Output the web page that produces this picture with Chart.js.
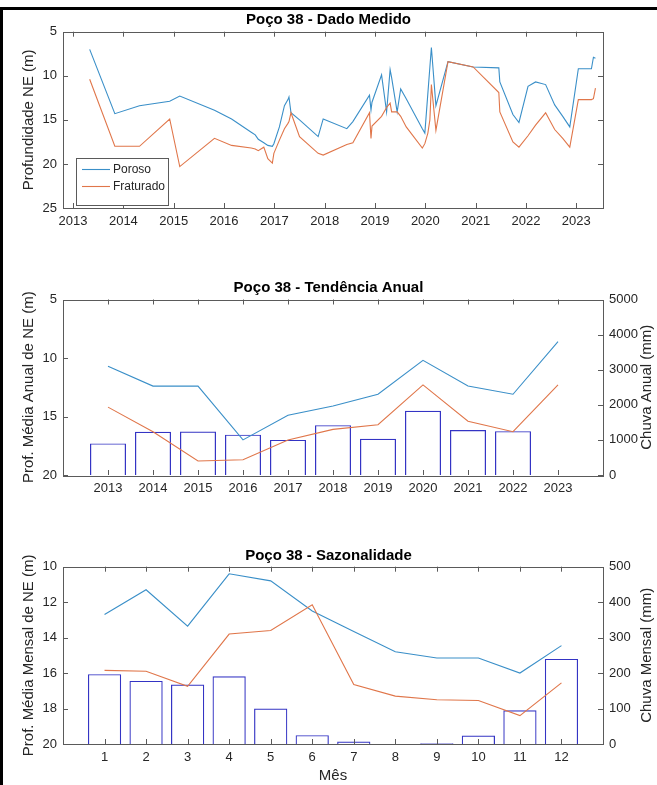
<!DOCTYPE html>
<html>
<head>
<meta charset="utf-8">
<script src="https://cdn.jsdelivr.net/npm/chart.js@4.4.1/dist/chart.umd.min.js"></script>
<style>
  html, body { margin: 0; padding: 0; background: #fff; }
  #wrap { position: relative; width: 657px; height: 785px; overflow: hidden; background: #fff; }
  canvas { position: absolute; left: 0; }
  .bordaTopo { position: absolute; left: 0; top: 7px; width: 657px; height: 3px; background: #000; }
  .bordaEsq { position: absolute; left: 0; top: 7px; width: 3px; height: 778px; background: #000; }
</style>
</head>
<body>
<div id="wrap">
  <canvas id="c1" width="657" height="240" style="top:0px"></canvas>
  <canvas id="c2" width="657" height="235" style="top:270px"></canvas>
  <canvas id="c3" width="657" height="245" style="top:540px"></canvas>
  <div class="bordaTopo"></div>
  <div class="bordaEsq"></div>
</div>
<script>
// Dado medido (ano decimal)
var datasMedidas = [2013.33, 2013.83, 2014.32, 2014.92, 2015.12, 2015.81, 2016.15, 2016.54, 2016.62, 2016.68,
  2016.79, 2016.87, 2016.96, 2016.99, 2017.10, 2017.20, 2017.27, 2017.29, 2017.33, 2017.50,
  2017.87, 2017.97, 2018.44, 2018.56, 2018.89, 2018.92, 2018.94, 2019.13, 2019.23, 2019.30,
  2019.33, 2019.44, 2019.51, 2019.62, 2019.94, 2019.99, 2020.05, 2020.09, 2020.12, 2020.21,
  2020.45, 2020.95, 2021.46, 2021.48, 2021.74, 2021.86, 2022.04, 2022.19, 2022.39, 2022.57,
  2022.73, 2022.87, 2023.04, 2023.30, 2023.34, 2023.38];
var porosoMedido = [7.0, 14.3, 13.4, 12.9, 12.3, 13.9, 14.9, 16.4, 16.7, 17.2,
  17.6, 17.9, 18.0, 17.7, 15.8, 13.4, 12.7, 12.4, 14.2, 15.0,
  16.9, 14.9, 16.0, 15.2, 12.2, 13.9, 13.0, 9.9, 14.1, 9.3,
  10.2, 14.1, 11.5, 12.6, 16.0, 16.5, 12.0, 9.0, 6.8, 13.4,
  8.4, 9.0, 9.1, 10.7, 14.4, 15.3, 11.2, 10.7, 11.0, 13.3,
  14.6, 15.8, 9.2, 9.2, 7.9, 8.0];
var fraturadoMedido = [10.4, 18.0, 18.0, 14.9, 20.3, 17.1, 17.9, 18.2, 18.3, 18.5,
  18.1, 19.4, 19.9, 18.8, 17.3, 16.0, 15.4, 15.2, 14.2, 16.9,
  18.8, 19.0, 17.8, 17.6, 14.2, 17.1, 15.7, 14.6, 13.6, 13.1,
  14.1, 14.1, 14.6, 15.8, 18.2, 17.7, 16.5, 15.0, 11.0, 16.2,
  8.4, 9.0, 11.9, 14.1, 17.5, 18.1, 16.8, 15.6, 14.2, 16.1,
  17.1, 18.1, 12.7, 12.7, 12.6, 11.4];
var anosTicks = [2013, 2014, 2015, 2016, 2017, 2018, 2019, 2020, 2021, 2022, 2023];
var profTicks = [5, 10, 15, 20, 25];

// Tendencia anual
var anos = [2013, 2014, 2015, 2016, 2017, 2018, 2019, 2020, 2021, 2022, 2023];
var porosoAnual = [10.7, 12.4, 12.4, 17.0, 14.9, 14.1, 13.1, 10.2, 12.4, 13.1, 8.6];
var fraturadoAnual = [14.2, 16.3, 18.8, 18.7, 17.0, 16.1, 15.7, 12.3, 15.4, 16.3, 12.3];
var anosChuva = [2013, 2014, 2015, 2016, 2017, 2018, 2019, 2020, 2021, 2022];
var chuvaAnual = [900, 1230, 1240, 1150, 1000, 1420, 1030, 1830, 1280, 1250];
var profAnualTicks = [5, 10, 15, 20];
var chuvaAnualTicks = [0, 1000, 2000, 3000, 4000, 5000];

// Sazonalidade
var meses = [1, 2, 3, 4, 5, 6, 7, 8, 9, 10, 11, 12];
var porosoMensal = [12.7, 11.3, 13.35, 10.4, 10.8, 12.5, 13.65, 14.8, 15.15, 15.15, 16.0, 14.45];
var fraturadoMensal = [15.85, 15.9, 16.75, 13.8, 13.6, 12.15, 16.65, 17.3, 17.5, 17.55, 18.4, 16.55];
var chuvaMensal = [197, 178, 168, 191, 100, 25, 7, 0, 2, 24, 95, 240];
var profMensalTicks = [10, 12, 14, 16, 18, 20];
var chuvaMensalTicks = [0, 100, 200, 300, 400, 500];

var AZUL = '#3a8fc8';
var LARANJA = '#e0764a';
var BARRA = '#3434c4';
var TEXTO = '#262626';
var FONTE = "'Liberation Sans', Arial, Helvetica, sans-serif";

Chart.defaults.font.family = FONTE;
Chart.defaults.color = TEXTO;

function pontos(xs, ys) {
  return xs.map(function(x, i) { return { x: x, y: ys[i] }; });
}

function linha(label, xs, ys, cor, ordem) {
  return {
    type: 'line', label: label, data: pontos(xs, ys), yAxisID: 'y',
    borderColor: cor, borderWidth: 1.1, pointRadius: 0, fill: false, tension: 0, order: ordem
  };
}

function barras(label, xs, ys) {
  return {
    type: 'bar', label: label, data: pontos(xs, ys), yAxisID: 'y2',
    backgroundColor: 'rgba(0,0,0,0)', borderColor: BARRA, borderWidth: 1.2, borderSkipped: 'start',
    barPercentage: 1, categoryPercentage: 0.8, order: 2
  };
}

function fixarTicks(lista) {
  return function(s) { s.ticks = lista.map(function(v) { return { value: v }; }); };
}

function eixoX(min, max, ticks, altura, titulo) {
  return {
    type: 'linear', min: min, max: max, offset: false,
    grid: { display: false, drawTicks: false },
    border: { display: false },
    afterBuildTicks: fixarTicks(ticks),
    afterFit: function(s) { s.height = altura; },
    ticks: { padding: 6, font: { size: 13 }, maxRotation: 0, autoSkip: false,
      callback: function(v) { return String(v); } },
    title: { display: !!titulo, text: titulo || '', font: { size: 15 }, padding: 0 }
  };
}

function eixoY(min, max, ticks, titulo) {
  return {
    type: 'linear', position: 'left', min: min, max: max, reverse: true,
    grid: { display: false, drawTicks: false },
    border: { display: false },
    afterBuildTicks: fixarTicks(ticks),
    afterFit: function(s) { s.width = 63; },
    ticks: { padding: 6, font: { size: 13 }, callback: function(v) { return String(v); } },
    title: { display: true, text: titulo, font: { size: 15 }, padding: { top: 20, bottom: 0 } }
  };
}

function eixoY2(min, max, ticks, mostrar) {
  return {
    type: 'linear', position: 'right', min: min, max: max,
    grid: { display: false, drawTicks: false },
    border: { display: false },
    afterBuildTicks: fixarTicks(ticks),
    afterFit: function(s) { s.width = 54; },
    ticks: { display: mostrar, padding: 6, font: { size: 13 }, callback: function(v) { return String(v); } }
  };
}

function titulo(texto, topo, baixo) {
  return { display: true, text: texto, color: '#000', font: { size: 15, weight: 'bold' },
    padding: { top: topo, bottom: baixo } };
}

// caixa e marcas para dentro, como no MATLAB
var eixosMatlab = {
  id: 'eixosMatlab',
  afterDatasetsDraw: function(chart, args, opts) {
    var a = chart.chartArea, ctx = chart.ctx, L = 5;
    var sx = chart.scales.x, sy = chart.scales.y, sy2 = chart.scales.y2;
    var espelho = opts && opts.espelho;
    ctx.save();
    ctx.strokeStyle = '#5a5a5a';
    ctx.lineWidth = 1;
    ctx.beginPath();
    sx.ticks.forEach(function(t) {
      var px = Math.round(sx.getPixelForValue(t.value)) + 0.5;
      ctx.moveTo(px, a.bottom); ctx.lineTo(px, a.bottom - L);
      ctx.moveTo(px, a.top); ctx.lineTo(px, a.top + L);
    });
    sy.ticks.forEach(function(t) {
      var py = Math.round(sy.getPixelForValue(t.value)) + 0.5;
      ctx.moveTo(a.left, py); ctx.lineTo(a.left + L, py);
      if (espelho) { ctx.moveTo(a.right, py); ctx.lineTo(a.right - L, py); }
    });
    if (sy2 && !espelho) {
      sy2.ticks.forEach(function(t) {
        var py = Math.round(sy2.getPixelForValue(t.value)) + 0.5;
        ctx.moveTo(a.right, py); ctx.lineTo(a.right - L, py);
      });
    }
    ctx.stroke();
    ctx.strokeRect(Math.round(a.left) + 0.5, Math.round(a.top) + 0.5,
      Math.round(a.right - a.left), Math.round(a.bottom - a.top));
    ctx.restore();
  }
};

// legenda dentro do grafico (canto inferior esquerdo)
var legendaInterna = {
  id: 'legendaInterna',
  afterDraw: function(chart, args, opts) {
    if (!opts || !opts.show) return;
    var a = chart.chartArea, ctx = chart.ctx;
    var x = Math.round(a.left) + 13, y = Math.round(a.bottom) - 50, w = 92, h = 47;
    ctx.save();
    ctx.fillStyle = '#fff';
    ctx.fillRect(x, y, w, h);
    ctx.strokeStyle = '#5a5a5a';
    ctx.lineWidth = 1;
    ctx.strokeRect(x + 0.5, y + 0.5, w, h);
    ctx.font = '12px ' + FONTE;
    ctx.textBaseline = 'middle';
    chart.data.datasets.forEach(function(ds, i) {
      var yy = Math.round(y + 11 + i * 17) + 0.5;
      ctx.strokeStyle = ds.borderColor;
      ctx.lineWidth = 1.1;
      ctx.beginPath();
      ctx.moveTo(x + 6, yy); ctx.lineTo(x + 34, yy);
      ctx.stroke();
      ctx.fillStyle = TEXTO;
      ctx.fillText(ds.label, x + 37, yy);
    });
    ctx.restore();
  }
};

// titulo do eixo direito, lido de baixo para cima
var tituloDireita = {
  id: 'tituloDireita',
  afterDraw: function(chart, args, opts) {
    if (!opts || !opts.text) return;
    var a = chart.chartArea, ctx = chart.ctx;
    ctx.save();
    ctx.translate(opts.x, (a.top + a.bottom) / 2);
    ctx.rotate(-Math.PI / 2);
    ctx.font = '15px ' + FONTE;
    ctx.fillStyle = TEXTO;
    ctx.textAlign = 'center';
    ctx.textBaseline = 'middle';
    ctx.fillText(opts.text, 0, 0);
    ctx.restore();
  }
};

var plugins = [eixosMatlab, legendaInterna, tituloDireita];

// Grafico 1 - Dado Medido (y2 vazio so para reservar a margem direita)
new Chart(document.getElementById('c1'), {
  type: 'line',
  data: {
    datasets: [
      linha('Poroso', datasMedidas, porosoMedido, AZUL, 1),
      linha('Fraturado', datasMedidas, fraturadoMedido, LARANJA, 0)
    ]
  },
  options: {
    responsive: false, animation: false,
    plugins: {
      legend: { display: false },
      tooltip: { enabled: false },
      title: titulo('Poço 38 - Dado Medido', 11, 2.7),
      legendaInterna: { show: true },
      eixosMatlab: { espelho: true }
    },
    scales: {
      x: eixoX(2012.8, 2023.53, anosTicks, 32),
      y: eixoY(5, 25, profTicks, 'Profundidade NE (m)'),
      y2: eixoY2(0, 1, [], false)
    }
  },
  plugins: plugins
});

// Grafico 2 - Tendencia Anual
new Chart(document.getElementById('c2'), {
  type: 'bar',
  data: {
    datasets: [
      linha('Poroso', anos, porosoAnual, AZUL, 1),
      linha('Fraturado', anos, fraturadoAnual, LARANJA, 0),
      barras('Chuva Anual', anosChuva, chuvaAnual)
    ]
  },
  options: {
    responsive: false, animation: false,
    plugins: {
      legend: { display: false },
      tooltip: { enabled: false },
      title: titulo('Poço 38 - Tendência Anual', 9, 2.5),
      tituloDireita: { text: 'Chuva Anual (mm)', x: 647 }
    },
    scales: {
      x: eixoX(2012, 2024, anos, 30),
      y: eixoY(5, 20, profAnualTicks, 'Prof. Média Anual de NE (m)'),
      y2: eixoY2(0, 5000, chuvaAnualTicks, true)
    }
  },
  plugins: plugins
});

// Grafico 3 - Sazonalidade
new Chart(document.getElementById('c3'), {
  type: 'bar',
  data: {
    datasets: [
      linha('Poroso', meses, porosoMensal, AZUL, 1),
      linha('Fraturado', meses, fraturadoMensal, LARANJA, 0),
      barras('Chuva Mensal', meses, chuvaMensal)
    ]
  },
  options: {
    responsive: false, animation: false,
    plugins: {
      legend: { display: false },
      tooltip: { enabled: false },
      title: titulo('Poço 38 - Sazonalidade', 7, 1.7),
      tituloDireita: { text: 'Chuva Mensal (mm)', x: 647 }
    },
    scales: {
      x: eixoX(0, 13, meses, 41, 'Mês'),
      y: eixoY(10, 20, profMensalTicks, 'Prof. Média Mensal de NE (m)'),
      y2: eixoY2(0, 500, chuvaMensalTicks, true)
    }
  },
  plugins: plugins
});
</script>
</body>
</html>
